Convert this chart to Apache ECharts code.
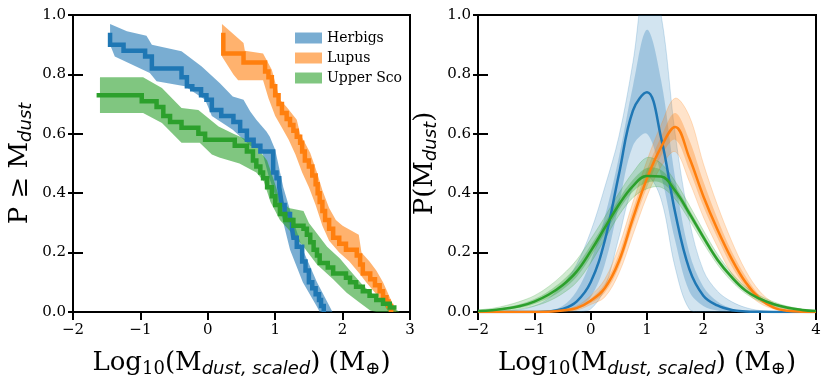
<!DOCTYPE html>
<html>
<head>
<meta charset="utf-8">
<script src="https://cdn.jsdelivr.net/npm/echarts@6/dist/echarts.min.js"></script>
<style>
  html, body { margin: 0; padding: 0; background: #fff; }
  #chart { width: 831px; height: 388px; }
</style>
</head>
<body>
<div id="chart"></div>
<script>
// ---- left panel: cumulative distributions (step points are [x, level]) ----
const herbigsStep = [[-1.45,0.94],[-1.45,0.90],[-1.25,0.88],[-0.93,0.86],[-0.83,0.82],[-0.39,0.79],[-0.31,0.76],[-0.23,0.75],[-0.1,0.73],[-0.02,0.715],[0.06,0.68],[0.2,0.66],[0.38,0.64],[0.48,0.61],[0.58,0.58],[0.68,0.56],[0.78,0.54],[0.97,0.52],[0.97,0.47],[1.02,0.45],[1.06,0.42],[1.08,0.39],[1.1,0.36],[1.14,0.33],[1.22,0.31],[1.25,0.28],[1.27,0.25],[1.32,0.22],[1.4,0.17],[1.45,0.14],[1.5,0.1],[1.55,0.08],[1.6,0.06],[1.65,0.04],[1.68,0.02],[1.72,0.0]];
const herbigsUpper = [[-1.45,0.97],[-1.2,0.945],[-0.91,0.93],[-0.83,0.90],[-0.39,0.878],[-0.09,0.827],[0.18,0.77],[0.37,0.726],[0.53,0.715],[0.63,0.675],[0.72,0.647],[0.87,0.608],[0.92,0.59],[1.0,0.546],[1.12,0.42],[1.25,0.32],[1.41,0.21],[1.62,0.10],[1.81,0.018],[1.85,0.0]];
const herbigsLower = [[-1.45,0.90],[-1.38,0.86],[-0.86,0.805],[-0.76,0.777],[-0.34,0.76],[-0.04,0.715],[0.06,0.66],[0.37,0.614],[0.63,0.56],[0.8,0.546],[0.9,0.46],[1.02,0.38],[1.1,0.32],[1.22,0.21],[1.41,0.10],[1.62,0.018],[1.66,0.0]];

const lupusStep = [[0.23,0.94],[0.23,0.87],[0.53,0.84],[0.85,0.81],[0.9,0.79],[0.95,0.76],[1.0,0.73],[1.05,0.70],[1.1,0.67],[1.17,0.65],[1.22,0.63],[1.27,0.61],[1.32,0.59],[1.37,0.57],[1.4,0.54],[1.44,0.51],[1.5,0.49],[1.55,0.46],[1.6,0.43],[1.63,0.40],[1.66,0.37],[1.7,0.34],[1.74,0.31],[1.8,0.28],[1.86,0.25],[1.95,0.23],[2.05,0.21],[2.21,0.19],[2.26,0.16],[2.3,0.13],[2.41,0.11],[2.48,0.09],[2.55,0.07],[2.6,0.05],[2.65,0.035],[2.68,0.02],[2.72,0.0]];
const lupusUpper = [[0.21,0.97],[0.53,0.906],[0.55,0.88],[0.82,0.87],[0.95,0.816],[1.07,0.715],[1.17,0.69],[1.32,0.647],[1.37,0.60],[1.52,0.535],[1.62,0.47],[1.7,0.41],[1.8,0.35],[1.9,0.31],[2.0,0.29],[2.24,0.26],[2.28,0.2],[2.4,0.17],[2.5,0.14],[2.6,0.1],[2.7,0.05],[2.8,0.0]];
const lupusLower = [[0.21,0.86],[0.38,0.80],[0.45,0.78],[0.82,0.78],[0.9,0.72],[1.0,0.66],[1.1,0.62],[1.2,0.58],[1.3,0.53],[1.4,0.47],[1.5,0.42],[1.6,0.36],[1.7,0.29],[1.8,0.24],[1.95,0.20],[2.1,0.17],[2.25,0.13],[2.35,0.1],[2.5,0.06],[2.6,0.03],[2.68,0.0]];

const uscoStep = [[-1.65,0.73],[-0.98,0.71],[-0.76,0.69],[-0.66,0.66],[-0.56,0.64],[-0.39,0.62],[-0.14,0.60],[-0.04,0.58],[0.4,0.56],[0.58,0.54],[0.67,0.51],[0.72,0.49],[0.78,0.47],[0.82,0.45],[0.88,0.42],[0.95,0.39],[1.0,0.36],[1.07,0.33],[1.15,0.31],[1.27,0.29],[1.42,0.28],[1.47,0.26],[1.52,0.235],[1.57,0.21],[1.62,0.19],[1.66,0.165],[1.78,0.15],[1.86,0.13],[2.05,0.115],[2.11,0.10],[2.2,0.085],[2.3,0.07],[2.4,0.055],[2.5,0.04],[2.6,0.028],[2.7,0.015],[2.8,0.015]];
const uscoUpper = [[-1.6,0.79],[-0.96,0.79],[-0.68,0.754],[-0.39,0.687],[-0.14,0.68],[0.16,0.625],[0.38,0.60],[0.68,0.57],[0.88,0.51],[0.97,0.45],[1.07,0.38],[1.2,0.35],[1.42,0.34],[1.5,0.30],[1.6,0.27],[1.77,0.22],[1.96,0.18],[2.11,0.14],[2.3,0.09],[2.5,0.05],[2.7,0.02],[2.85,0.0]];
const uscoLower = [[-1.6,0.67],[-0.96,0.67],[-0.68,0.636],[-0.39,0.57],[-0.12,0.57],[0.06,0.53],[0.17,0.52],[0.47,0.50],[0.72,0.47],[0.83,0.44],[0.93,0.37],[1.07,0.31],[1.27,0.26],[1.42,0.22],[1.62,0.16],[1.86,0.11],[2.06,0.065],[2.26,0.03],[2.41,0.005],[2.5,0.0]];

// ---- right panel: distributions on a shared x grid ----
const xGrid = [-2,-1.75,-1.5,-1.25,-1,-0.75,-0.5,-0.25,0,0.25,0.5,0.75,1,1.25,1.5,1.75,2,2.25,2.5,2.75,3,3.25,3.5,3.75,4];

const blueMain    = [0,0,0,0,0.0002,0.002,0.01,0.035,0.10,0.24,0.462,0.678,0.740,0.587,0.335,0.145,0.055,0.022,0.007,0.002,0.0005,0,0,0,0];
const blueOuterHi = [0,0.001,0.003,0.008,0.02,0.045,0.09,0.16,0.27,0.42,0.59,0.84,1.15,1.0,0.6,0.31,0.14,0.07,0.035,0.015,0.005,0.001,0,0,0];
const blueOuterLo = [0,0,0,0,0,0,0,0.001,0.01,0.08,0.25,0.42,0.46,0.38,0.15,0.01,0,0,0,0,0,0,0,0,0];
const blueInnerHi = [0,0,0,0,0.001,0.004,0.02,0.07,0.17,0.32,0.52,0.76,0.95,0.78,0.45,0.2,0.085,0.035,0.012,0.004,0.001,0,0,0,0];
const blueInnerLo = [0,0,0,0,0,0,0.003,0.015,0.05,0.16,0.36,0.56,0.6,0.46,0.24,0.07,0.02,0.005,0,0,0,0,0,0,0];

const orangeMain    = [0,0,0,0,0.0003,0.001,0.005,0.013,0.038,0.08,0.17,0.315,0.45,0.555,0.623,0.52,0.39,0.278,0.18,0.10,0.045,0.015,0.004,0.001,0];
const orangeOuterHi = [0,0,0,0,0.001,0.003,0.008,0.02,0.055,0.11,0.22,0.37,0.51,0.63,0.72,0.66,0.5,0.36,0.24,0.14,0.07,0.03,0.01,0.003,0];
const orangeOuterLo = [0,0,0,0,0,0,0.002,0.006,0.025,0.05,0.13,0.26,0.39,0.49,0.54,0.44,0.32,0.22,0.13,0.07,0.03,0.01,0.003,0.001,0];
const orangeInnerHi = [0,0,0,0,0.0005,0.002,0.006,0.016,0.045,0.095,0.195,0.345,0.48,0.59,0.67,0.58,0.44,0.315,0.205,0.12,0.055,0.02,0.006,0.002,0];
const orangeInnerLo = [0,0,0,0,0,0.0005,0.003,0.01,0.03,0.065,0.15,0.29,0.42,0.525,0.58,0.48,0.355,0.25,0.155,0.085,0.037,0.012,0.003,0.001,0];

const greenMain    = [0.003,0.006,0.012,0.02,0.035,0.058,0.09,0.136,0.205,0.283,0.361,0.424,0.458,0.456,0.408,0.333,0.252,0.176,0.118,0.072,0.045,0.026,0.014,0.007,0.003];
const greenOuterHi = [0.006,0.012,0.022,0.036,0.055,0.085,0.125,0.175,0.245,0.32,0.40,0.47,0.52,0.50,0.44,0.36,0.275,0.195,0.132,0.085,0.055,0.034,0.019,0.01,0.005];
const greenOuterLo = [0.001,0.002,0.005,0.01,0.02,0.036,0.062,0.1,0.165,0.245,0.325,0.385,0.415,0.42,0.38,0.31,0.232,0.16,0.104,0.062,0.036,0.019,0.009,0.004,0.001];
const greenInnerHi = [0.004,0.008,0.016,0.027,0.044,0.07,0.106,0.155,0.225,0.3,0.38,0.445,0.485,0.478,0.424,0.346,0.263,0.185,0.125,0.078,0.05,0.03,0.016,0.008,0.004];
const greenInnerLo = [0.002,0.004,0.008,0.014,0.027,0.046,0.075,0.118,0.185,0.265,0.343,0.405,0.435,0.435,0.393,0.32,0.242,0.168,0.111,0.067,0.04,0.022,0.011,0.005,0.002];

const BLUE = '#1f77b4', ORANGE = '#ff7f0e', GREEN = '#2ca02c';
const SERIF = 'DejaVu Serif';

const chart = echarts.init(document.getElementById('chart'));

function zipGrid(ys) {
  return xGrid.map((x, i) => [x, ys[i]]);
}

// polygon made of an upper edge and a lower edge, mapped through the axes
function bandSeries(name, upper, lower, color, opacity, gridIdx, smooth, strokeOpacity) {
  const pts = upper.concat(lower.slice().reverse());
  return {
    type: 'custom',
    name,
    xAxisIndex: gridIdx,
    yAxisIndex: gridIdx,
    clip: true,
    silent: true,
    itemStyle: { color },
    data: [pts[0]],
    renderItem(params, api) {
      return {
        type: 'polygon',
        shape: { points: pts.map((p) => api.coord(p)), smooth },
        style: {
          fill: color,
          opacity,
          stroke: strokeOpacity ? color : null,
          lineWidth: 1
        }
      };
    }
  };
}

function stepSeries(data, color) {
  return {
    type: 'line',
    xAxisIndex: 0,
    yAxisIndex: 0,
    data,
    step: 'end',
    symbol: 'none',
    showSymbol: false,
    silent: true,
    lineStyle: { color, width: 4.5, join: 'miter', cap: 'butt' },
    itemStyle: { color }
  };
}

function mainCurve(ys, color) {
  return {
    type: 'line',
    xAxisIndex: 1,
    yAxisIndex: 1,
    data: zipGrid(ys),
    smooth: 0.4,
    symbol: 'none',
    showSymbol: false,
    silent: true,
    lineStyle: { color, width: 2.5 },
    itemStyle: { color }
  };
}

const xTitle = '{n|Log}{s|10}{n|(M}{i|dust, scaled}{n|) (M}{s|\u2295}{n|)}';
const titleRich = {
  n: { fontFamily: SERIF, fontSize: 26, color: '#000', lineHeight: 30 },
  s: { fontFamily: SERIF, fontSize: 18, color: '#000', lineHeight: 18, padding: [12, 0, 0, 0] },
  i: { fontFamily: 'DejaVu Sans', fontStyle: 'italic', fontSize: 18, color: '#000', lineHeight: 18, padding: [12, 0, 0, 0] }
};

function xAxisFor(gridIndex, max) {
  return {
    gridIndex,
    type: 'value',
    min: -2,
    max,
    interval: 1,
    name: xTitle,
    nameLocation: 'middle',
    nameGap: 36,
    nameTextStyle: { rich: titleRich },
    axisLine: { show: true, onZero: false, lineStyle: { color: '#000', width: 2 } },
    axisTick: { show: true, length: 8, lineStyle: { color: '#000', width: 2 } },
    axisLabel: {
      margin: 11,
      fontFamily: SERIF,
      fontSize: 15,
      color: '#000',
      formatter: (v) => (v < 0 ? '\u2212' + Math.abs(v) : String(v))
    },
    splitLine: { show: false }
  };
}

function yAxisFor(gridIndex, name) {
  return {
    gridIndex,
    type: 'value',
    min: 0,
    max: 1,
    interval: 0.2,
    position: 'left',
    name,
    nameLocation: 'middle',
    nameGap: 38,
    nameTextStyle: { rich: titleRich },
    axisLine: { show: true, onZero: false, lineStyle: { color: '#000', width: 2 } },
    axisTick: { show: true, length: 5, lineStyle: { color: '#000', width: 2 } },
    axisLabel: {
      margin: 7,
      fontFamily: SERIF,
      fontSize: 15,
      color: '#000',
      formatter: (v) => v.toFixed(1)
    },
    splitLine: { show: false }
  };
}

// extra axes only to draw the inward half of the y ticks
function innerTickAxis(gridIndex) {
  return {
    gridIndex,
    type: 'value',
    min: 0,
    max: 1,
    interval: 0.2,
    position: 'left',
    axisLine: { show: false, onZero: false },
    axisTick: { show: true, inside: true, length: 10, lineStyle: { color: '#000', width: 2 } },
    axisLabel: { show: false },
    splitLine: { show: false }
  };
}

const series = [
  bandSeries('Herbigs', herbigsUpper, herbigsLower, 'rgba(31,119,180,0.6)', 1, 0, 0, false),
  stepSeries(herbigsStep, BLUE),
  bandSeries('Lupus', lupusUpper, lupusLower, 'rgba(255,127,14,0.6)', 1, 0, 0, false),
  stepSeries(lupusStep, ORANGE),
  bandSeries('Upper Sco', uscoUpper, uscoLower, 'rgba(44,160,44,0.6)', 1, 0, 0, false),
  stepSeries(uscoStep, GREEN),

  bandSeries('', zipGrid(blueOuterHi), zipGrid(blueOuterLo), BLUE, 0.2, 1, 0.35, true),
  bandSeries('', zipGrid(blueInnerHi), zipGrid(blueInnerLo), BLUE, 0.28, 1, 0.35, false),
  bandSeries('', zipGrid(orangeOuterHi), zipGrid(orangeOuterLo), ORANGE, 0.22, 1, 0.35, true),
  bandSeries('', zipGrid(orangeInnerHi), zipGrid(orangeInnerLo), ORANGE, 0.32, 1, 0.35, false),
  bandSeries('', zipGrid(greenOuterHi), zipGrid(greenOuterLo), GREEN, 0.22, 1, 0.35, true),
  bandSeries('', zipGrid(greenInnerHi), zipGrid(greenInnerLo), GREEN, 0.32, 1, 0.35, false),
  mainCurve(blueMain, BLUE),
  mainCurve(orangeMain, ORANGE),
  mainCurve(greenMain, GREEN)
];

chart.setOption({
  animation: false,
  backgroundColor: '#fff',
  grid: [
    { left: 73, top: 15, width: 337, height: 297, show: true, borderColor: '#000', borderWidth: 2, backgroundColor: 'transparent' },
    { left: 478, top: 15, width: 338, height: 297, show: true, borderColor: '#000', borderWidth: 2, backgroundColor: 'transparent' }
  ],
  legend: {
    left: 290,
    top: 26,
    orient: 'vertical',
    itemWidth: 27,
    itemHeight: 11,
    itemGap: 6,
    icon: 'rect',
    textStyle: { fontFamily: SERIF, fontSize: 14, color: '#000', lineHeight: 14 },
    data: [
      { name: 'Herbigs', itemStyle: { color: 'rgba(31,119,180,0.6)' } },
      { name: 'Lupus', itemStyle: { color: 'rgba(255,127,14,0.6)' } },
      { name: 'Upper Sco', itemStyle: { color: 'rgba(44,160,44,0.6)' } }
    ]
  },
  xAxis: [xAxisFor(0, 3), xAxisFor(1, 4)],
  yAxis: [
    yAxisFor(0, '{n|P \u2265 M}{i|dust}'),
    yAxisFor(1, '{n|P(M}{i|dust}{n|)}'),
    innerTickAxis(0),
    innerTickAxis(1)
  ],
  series
});
</script>
</body>
</html>
